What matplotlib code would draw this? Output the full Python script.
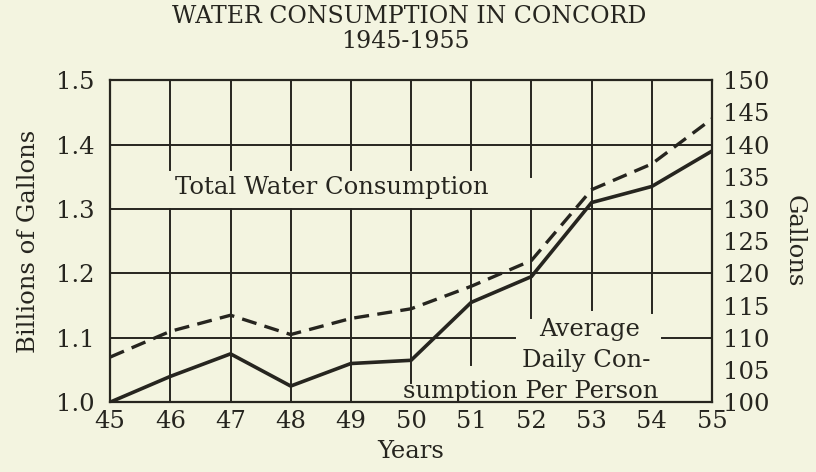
"""Water consumption in Concord, 1945-1955 -- recreated from a scanned chart."""

import matplotlib

matplotlib.use("Agg")
import matplotlib.pyplot as plt

BG = "#f3f4e0"
INK = "#26251f"
FONT = "DejaVu Serif"

years = [45, 46, 47, 48, 49, 50, 51, 52, 53, 54, 55]
total_bgal = [1.00, 1.04, 1.075, 1.025, 1.06, 1.065, 1.155, 1.195, 1.31, 1.335, 1.39]
per_person_gal = [107, 111, 113.5, 110.5, 113, 114.5, 118, 122, 133, 137, 144]

left_ticks = [1.0, 1.1, 1.2, 1.3, 1.4, 1.5]
right_ticks = [100, 105, 110, 115, 120, 125, 130, 135, 140, 145, 150]

# where the printed grid lines stop around the labels (left-axis units)
vgrid_upper_end = {46: 1.36, 47: 1.36, 48: 1.36, 49: 1.36, 50: 1.36, 51: 1.36, 52: 1.35}
vgrid_lower_end = {50: 1.03, 51: 1.057, 52: 1.13, 53: 1.143, 54: 1.138}
hgrid_gap = {1.1: (51.73, 54.17)}

plt.rcParams["font.family"] = FONT
FS = 17.5

fig = plt.figure(figsize=(8.16, 4.72), dpi=100, facecolor=BG)
ax = fig.add_axes([0.135, 0.148, 0.7375, 0.682])
ax.set_facecolor(BG)
ax.set_xlim(45, 55)
ax.set_ylim(1.0, 1.5)

# grid drawn by hand, with breaks where the labels sit
for y in left_ticks[1:-1]:
    if y in hgrid_gap:
        a, b = hgrid_gap[y]
        ax.plot([45, a], [y, y], color=INK, lw=1.4, zorder=1)
        ax.plot([b, 55], [y, y], color=INK, lw=1.4, zorder=1)
    else:
        ax.axhline(y, color=INK, lw=1.4, zorder=1)
for x in years[1:-1]:
    lo = vgrid_lower_end.get(x, 1.0)
    if x in vgrid_upper_end:
        ax.plot([x, x], [1.5, vgrid_upper_end[x]], color=INK, lw=1.4, zorder=1)
        ax.plot([x, x], [1.3, lo], color=INK, lw=1.4, zorder=1)
    else:
        ax.plot([x, x], [1.5, lo], color=INK, lw=1.4, zorder=1)

ax.plot(years, total_bgal, color=INK, lw=2.6, zorder=4, solid_joinstyle="miter")

ax.text(48.69, 1.334, "Total Water Consumption", ha="center", va="center",
        fontsize=FS, color=INK, zorder=3)
ax.text(52.96, 1.113, "Average", ha="center", va="center",
        fontsize=FS, color=INK, zorder=3)
ax.text(52.91, 1.064, "Daily Con-", ha="center", va="center",
        fontsize=FS, color=INK, zorder=3)
ax.text(51.99, 1.016, "sumption Per Person", ha="center", va="center",
        fontsize=FS, color=INK, zorder=3)

ax.set_xticks(years)
ax.set_xticklabels([str(y) for y in years])
ax.set_yticks(left_ticks)
ax.set_yticklabels([f"{v:.1f}" for v in left_ticks])
ax.tick_params(axis="x", length=0, pad=6, labelsize=FS, colors=INK)
ax.tick_params(axis="y", length=0, pad=11, labelsize=FS, colors=INK)
ax.set_xlabel("Years", fontsize=FS, color=INK, labelpad=5)
ax.set_ylabel("Billions of Gallons", fontsize=FS, color=INK, labelpad=12)
for s in ax.spines.values():
    s.set_color(INK)
    s.set_linewidth(1.6)
    s.set_zorder(5)

ax2 = ax.twinx()
ax2.set_ylim(100, 150)
ax2.plot(years, per_person_gal, color=INK, lw=2.4, ls=(0, (4.5, 2.5)), zorder=4)
ax2.set_yticks(right_ticks)
ax2.tick_params(axis="y", length=0, pad=8, labelsize=FS, colors=INK)
ax2.set_ylabel("Gallons", fontsize=FS, color=INK, rotation=270, labelpad=26)
for s in ax2.spines.values():
    s.set_visible(False)

fig.text(0.502, 0.966, "WATER CONSUMPTION IN CONCORD", ha="center", va="center",
         fontsize=17, color=INK)
fig.text(0.497, 0.913, "1945-1955", ha="center", va="center",
         fontsize=17, color=INK)

fig.savefig("out.png", dpi=100, facecolor=BG)
